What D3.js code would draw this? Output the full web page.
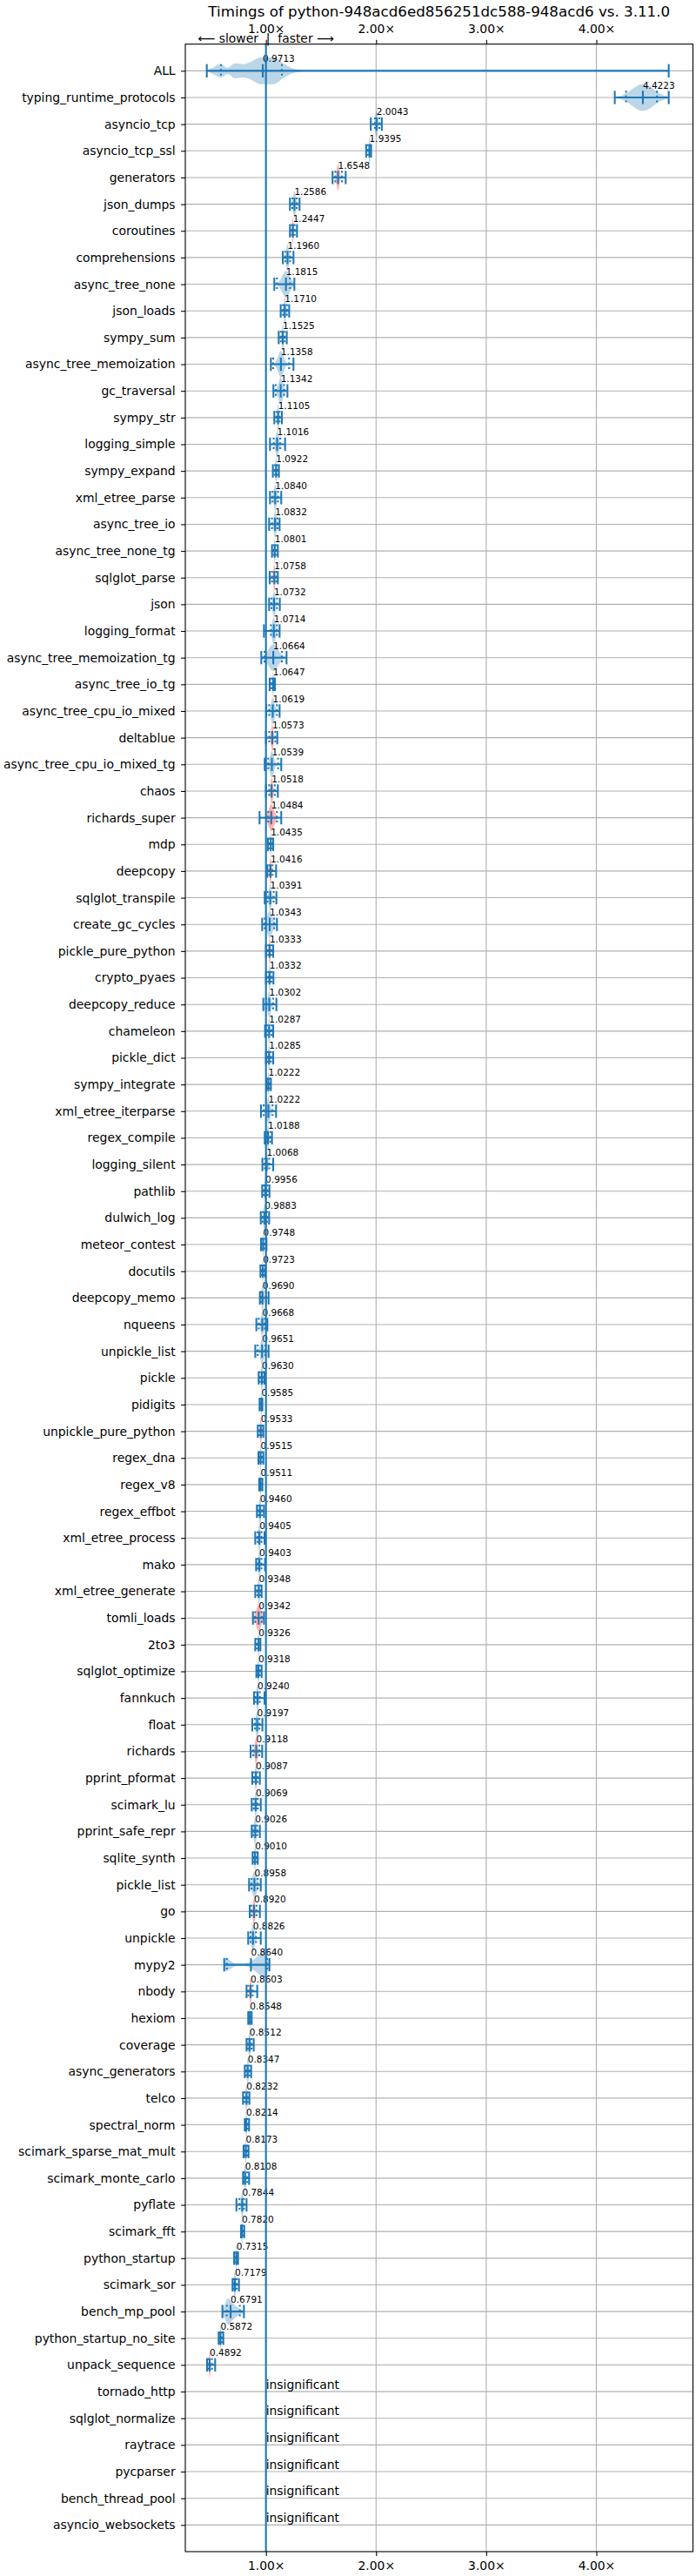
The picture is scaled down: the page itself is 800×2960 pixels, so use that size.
<!DOCTYPE html>
<html><head><meta charset="utf-8">
<script src="https://cdn.jsdelivr.net/npm/d3@7"></script>
<style>body{margin:0;background:#fff} text{font-family:"DejaVu Sans",sans-serif}</style>
</head><body><svg id="c" width="800" height="2960"></svg>
<script>
const chartTitle = "Timings of python-948acd6ed856251dc588-948acd6 vs. 3.11.0";
const benchmarks = ["ALL","typing_runtime_protocols","asyncio_tcp","asyncio_tcp_ssl","generators","json_dumps","coroutines","comprehensions","async_tree_none","json_loads",
"sympy_sum","async_tree_memoization","gc_traversal","sympy_str","logging_simple","sympy_expand","xml_etree_parse","async_tree_io","async_tree_none_tg","sqlglot_parse",
"json","logging_format","async_tree_memoization_tg","async_tree_io_tg","async_tree_cpu_io_mixed","deltablue","async_tree_cpu_io_mixed_tg","chaos","richards_super","mdp",
"deepcopy","sqlglot_transpile","create_gc_cycles","pickle_pure_python","crypto_pyaes","deepcopy_reduce","chameleon","pickle_dict","sympy_integrate","xml_etree_iterparse",
"regex_compile","logging_silent","pathlib","dulwich_log","meteor_contest","docutils","deepcopy_memo","nqueens","unpickle_list","pickle",
"pidigits","unpickle_pure_python","regex_dna","regex_v8","regex_effbot","xml_etree_process","mako","xml_etree_generate","tomli_loads","2to3",
"sqlglot_optimize","fannkuch","float","richards","pprint_pformat","scimark_lu","pprint_safe_repr","sqlite_synth","pickle_list","go",
"unpickle","mypy2","nbody","hexiom","coverage","async_generators","telco","spectral_norm","scimark_sparse_mat_mult","scimark_monte_carlo",
"pyflate","scimark_fft","python_startup","scimark_sor","bench_mp_pool","python_startup_no_site","unpack_sequence"];
const medians = [0.9713,4.4223,2.0043,1.9395,1.6548,1.2586,1.2447,1.1960,1.1815,1.1710,
1.1525,1.1358,1.1342,1.1105,1.1016,1.0922,1.0840,1.0832,1.0801,1.0758,
1.0732,1.0714,1.0664,1.0647,1.0619,1.0573,1.0539,1.0518,1.0484,1.0435,
1.0416,1.0391,1.0343,1.0333,1.0332,1.0302,1.0287,1.0285,1.0222,1.0222,
1.0188,1.0068,0.9956,0.9883,0.9748,0.9723,0.9690,0.9668,0.9651,0.9630,
0.9585,0.9533,0.9515,0.9511,0.9460,0.9405,0.9403,0.9348,0.9342,0.9326,
0.9318,0.9240,0.9197,0.9118,0.9087,0.9069,0.9026,0.9010,0.8958,0.8920,
0.8826,0.8640,0.8603,0.8548,0.8512,0.8347,0.8232,0.8214,0.8173,0.8108,
0.7844,0.7820,0.7315,0.7179,0.6791,0.5872,0.4892];
const mins = [0.463,4.167,1.952,1.910,1.605,1.218,1.218,1.153,1.076,1.134,
1.116,1.045,1.068,1.076,1.037,1.063,1.037,1.029,1.055,1.034,
1.029,0.982,0.958,1.034,1.003,1.000,0.989,1.000,0.942,1.018,
1.013,0.989,0.966,1.000,1.000,0.976,0.992,1.000,1.005,0.955,
0.989,0.968,0.966,0.953,0.955,0.950,0.945,0.913,0.903,0.934,
0.942,0.926,0.932,0.939,0.918,0.903,0.911,0.903,0.882,0.903,
0.913,0.892,0.876,0.861,0.876,0.871,0.871,0.879,0.847,0.853,
0.839,0.621,0.824,0.839,0.824,0.808,0.792,0.808,0.797,0.792,
0.732,0.774,0.711,0.697,0.605,0.571,0.466];
const maxs = [4.657,4.657,2.052,1.955,1.724,1.305,1.282,1.250,1.258,1.211,
1.189,1.250,1.195,1.145,1.174,1.118,1.139,1.124,1.108,1.108,
1.126,1.124,1.187,1.082,1.124,1.103,1.139,1.108,1.139,1.066,
1.092,1.095,1.100,1.066,1.068,1.095,1.066,1.066,1.045,1.092,
1.055,1.066,1.032,1.029,1.005,0.995,1.024,1.013,1.024,0.987,
0.968,0.976,0.976,0.968,0.982,0.987,0.992,0.961,0.982,0.950,
0.961,0.987,0.968,0.966,0.945,0.953,0.945,0.926,0.953,0.945,
0.953,1.032,0.921,0.871,0.889,0.866,0.850,0.847,0.842,0.847,
0.824,0.803,0.747,0.755,0.800,0.613,0.539];
const qLow = [0.592,4.27,1.99,1.925,1.63,1.24,1.235,1.175,1.10,1.155,
1.135,1.066,1.09,1.095,1.07,1.08,1.06,1.055,1.07,1.055,
1.05,1.045,0.987,1.05,1.03,1.03,1.02,1.03,1.021,1.03,
1.03,1.015,0.99,1.02,1.02,1.0,1.01,1.015,1.012,0.98,
1.005,0.99,0.98,0.97,0.965,0.962,0.955,0.935,0.925,0.945,
0.95,0.94,0.94,0.945,0.932,0.925,0.925,0.92,0.903,0.915,
0.92,0.905,0.90,0.885,0.89,0.89,0.885,0.89,0.87,0.87,
0.86,0.645,0.84,0.845,0.835,0.82,0.805,0.812,0.805,0.80,
0.76,0.777,0.72,0.705,0.645,0.578,0.475];
const qHigh = [1.145,4.55,2.03,1.95,1.69,1.28,1.26,1.22,1.218,1.19,
1.17,1.21,1.165,1.125,1.13,1.105,1.11,1.105,1.095,1.095,
1.10,1.10,1.145,1.075,1.10,1.085,1.11,1.08,1.10,1.055,
1.06,1.07,1.075,1.05,1.05,1.065,1.05,1.045,1.035,1.06,
1.04,1.03,1.015,1.01,0.99,0.985,1.0,0.99,0.995,0.975,
0.963,0.965,0.965,0.96,0.965,0.96,0.96,0.95,0.961,0.945,
0.945,0.945,0.94,0.94,0.925,0.925,0.92,0.915,0.925,0.915,
0.91,1.01,0.88,0.865,0.87,0.85,0.835,0.835,0.83,0.83,
0.80,0.79,0.74,0.735,0.763,0.60,0.51];
// width of the density peak (value units) of each violin; null = explicit profile below
const spreads = [null,0.10,0.012,0.006,0.012,0.012,0.006,0.012,0.035,0.010,
0.008,0.025,0.020,0.008,0.014,0.006,0.012,0.012,0.006,0.008,
0.012,0.016,0.045,0.005,0.016,0.010,0.018,0.010,0.025,0.005,
0.008,0.012,0.025,0.007,0.008,0.014,0.008,0.008,0.004,0.016,
0.008,0.010,0.008,0.012,0.005,0.005,0.010,0.012,0.014,0.010,
0.004,0.007,0.005,0.004,0.010,0.010,0.010,0.008,0.022,0.006,
0.007,0.010,0.012,0.012,0.008,0.008,0.012,0.006,0.020,0.010,
0.015,null,0.008,0.004,0.010,0.008,0.008,0.006,0.005,0.008,
0.010,0.005,0.005,0.008,null,0.005,0.006];
const profileALL = [[0.463,0],[0.53,0.3],[0.59,0.5],[0.653,0.23],[0.72,0.56],[0.8,0.5],[0.85,0.62],[0.955,1],[1.07,1],[1.166,0.5],[1.27,0.12],[1.4,0.02],[1.6,0],[4.657,0]];
const profileMypy2 = [[0.621,0.3],[0.64,0.5],[0.67,0.35],[0.72,0.1],[0.76,0.06],[0.82,0.12],[0.88,0.35],[0.94,0.75],[0.985,1],[1.015,0.6],[1.032,0.2]];
const profileMpPool = [[0.605,0.1],[0.63,0.6],[0.655,1],[0.69,0.7],[0.73,0.4],[0.77,0.2],[0.8,0.05]];
const redRows = ["generators","coroutines","sqlglot_parse","deltablue","chaos","richards_super","deepcopy","pickle_pure_python","unpickle_pure_python","tomli_loads","richards","go","nbody","unpack_sequence"];
const insignificant = ["tornado_http","sqlglot_normalize","raytrace","pycparser","bench_thread_pool","asyncio_websockets"];
const xTickValues = [1,2,3,4];

const profiles = {ALL: profileALL, mypy2: profileMypy2, bench_mp_pool: profileMpPool};
const allNames = benchmarks.concat(insignificant);
const C0 = "#1f77b4";
const svg = d3.select("#c");
const L = 213, R = 796.5, T = 50.7, B = 2932;
const x = d3.scaleLinear().domain([0.268, 4.877]).range([L, R]);
const y = d3.scalePoint().domain(allNames).range([T, B]).padding(1);
const step = y.step();
const half = step * 0.5, tick = step * 0.25;
const lw = 2.08;

// grid
const g = svg.append("g");
g.selectAll(".hg").data(allNames).join("line")
  .attr("x1", L).attr("x2", R).attr("y1", d => y(d)).attr("y2", d => y(d))
  .attr("stroke", "#b0b0b0").attr("stroke-width", 1.1);
g.selectAll(".vg").data(xTickValues).join("line")
  .attr("x1", d => x(d)).attr("x2", d => x(d)).attr("y1", T).attr("y2", B)
  .attr("stroke", "#b0b0b0").attr("stroke-width", 1.1);

// violins
const area = d3.area().curve(d3.curveMonotoneX)
  .x(d => x(d[0]));
const vg = svg.append("g");
benchmarks.forEach((name, i) => {
  const cy = y(name);
  let pts;
  if (profiles[name]) {
    pts = profiles[name];
  } else {
    const s = spreads[i], lo = mins[i], hi = maxs[i], m = medians[i];
    const vs = d3.range(81).map(k => lo + (hi - lo) * k / 80).concat([m]).sort((a, b) => a - b);
    pts = vs.map(v => [v, Math.exp(-((v - m) ** 2) / (2 * s * s))]);
    const mx = d3.max(pts, p => p[1]);
    pts = pts.map(p => [p[0], p[1] / mx]);
  }
  const fill = redRows.includes(name) ? "rgba(255,0,0,0.3)" : "rgba(31,119,180,0.3)";
  vg.append("path").datum(pts)
    .attr("d", area.y0(d => cy - d[1] * half).y1(d => cy + d[1] * half))
    .attr("fill", fill);
  const lg = vg.append("g").attr("stroke", C0).attr("stroke-width", lw);
  lg.append("line").attr("x1", x(mins[i])).attr("x2", x(maxs[i])).attr("y1", cy).attr("y2", cy);
  [mins[i], maxs[i], medians[i]].forEach(v => {
    lg.append("line").attr("x1", x(v)).attr("x2", x(v)).attr("y1", cy - tick).attr("y2", cy + tick);
  });
  [qLow[i], qHigh[i]].forEach(v => {
    lg.append("line").attr("x1", x(v)).attr("x2", x(v)).attr("y1", cy - tick).attr("y2", cy + tick)
      .attr("stroke-dasharray", "2.08,3.44");
  });
  vg.append("text").attr("x", x(medians[i])).attr("y", cy - tick - 2.5)
    .attr("font-size", 10.5).attr("fill", "#000").text(d3.format(".4f")(medians[i]));
});
insignificant.forEach(name => {
  vg.append("text").attr("x", x(1)).attr("y", y(name) - 3.3)
    .attr("font-size", 13.9).attr("fill", "#000").text("insignificant");
});

// reference line at 1.0
svg.append("line").attr("x1", x(1)).attr("x2", x(1)).attr("y1", T).attr("y2", B)
  .attr("stroke", C0).attr("stroke-width", lw);

// axes
const fmt = d => d3.format(".2f")(d) + "×";
const ax = svg.append("g").attr("transform", `translate(0,${T})`)
  .call(d3.axisTop(x).tickValues(xTickValues).tickFormat(fmt).tickSize(4.9).tickPadding(4.9));
ax.selectAll("text").attr("dy", "-0.24em");
const bx = svg.append("g").attr("transform", `translate(0,${B})`)
  .call(d3.axisBottom(x).tickValues(xTickValues).tickFormat(fmt).tickSize(4.9).tickPadding(4.9));
bx.selectAll("text").attr("dy", "0.84em");
const ly = svg.append("g").attr("transform", `translate(${L},0)`)
  .call(d3.axisLeft(y).tickSize(4.9).tickPadding(6.5));
[ax, bx, ly].forEach(a => {
  a.select(".domain").remove();
  a.selectAll("text").attr("font-family", "DejaVu Sans").attr("font-size", 13.9).attr("fill", "#000");
  a.selectAll(".tick line").attr("stroke", "#000").attr("stroke-width", 1.1);
});
svg.append("rect").attr("x", L).attr("y", T).attr("width", R - L).attr("height", B - T)
  .attr("fill", "none").attr("stroke", "#000").attr("stroke-width", 1.1);

svg.append("text").attr("x", x(1)).attr("y", 49.3).attr("text-anchor", "middle")
  .attr("font-size", 13.9).style("white-space", "pre").text("⟵ slower  |  faster ⟶");
svg.append("text").attr("x", (L + R) / 2).attr("y", 19).attr("text-anchor", "middle")
  .attr("font-size", 16.7).text(chartTitle);
</script></body></html>
